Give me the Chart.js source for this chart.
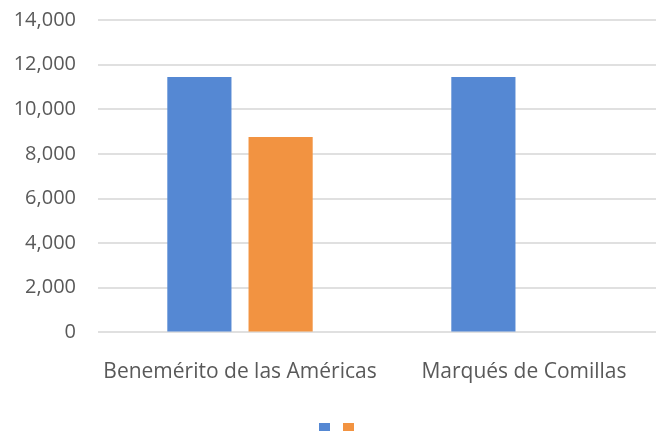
<!DOCTYPE html>
<html>
<head>
<meta charset="utf-8">
<script src="https://cdn.jsdelivr.net/npm/chart.js@4"></script>
<style>
html,body{margin:0;padding:0;background:#fff;overflow:hidden;}
#wrap{width:666px;height:457px;position:relative;top:-14px;}
</style>
</head>
<body>
<div id="wrap"><canvas id="c"></canvas></div>
<script>
const categories = ["Benemérito de las Américas", "Marqués de Comillas"];
const seriesBlue = [11450, 11450];
const seriesOrange = [8760, null];
const seriesLabels = ["", ""];

const ctx = document.getElementById('c');
new Chart(ctx, {
  type: 'bar',
  data: {
    labels: categories,
    datasets: [
      {label: seriesLabels[0], data: seriesBlue, backgroundColor: '#5588D3', categoryPercentage: 0.572, barPercentage: 0.79},
      {label: seriesLabels[1], data: seriesOrange, backgroundColor: '#F29341', categoryPercentage: 0.572, barPercentage: 0.79}
    ]
  },
  options: {
    responsive: true,
    maintainAspectRatio: false,
    animation: false,
    layout: {padding: {top: 0, right: 0, bottom: 0, left: 13}},
    plugins: {
      tooltip: {enabled: false},
      legend: {
        position: 'bottom',
        title: {display: true, text: ' ', font: {size: 2}, padding: 0},
        labels: {boxWidth: 11, boxHeight: 8, padding: 7, font: {size: 12, lineHeight: 0.6}, color: '#595959'}
      }
    },
    scales: {
      x: {
        grid: {display: false, drawTicks: false},
        border: {display: false},
        ticks: {color: '#595959', font: {family: 'Open Sans', size: 21}, padding: 27, maxRotation: 0}
      },
      y: {
        min: 0, max: 14000,
        afterFit: s => { s.width = 85; },
        grid: {color: '#E0E0E0', lineWidth: 2, drawTicks: false},
        border: {display: false},
        ticks: {stepSize: 2000, color: '#595959', font: {family: 'Open Sans', size: 20}, padding: 22,
          callback: v => v.toLocaleString('en-US')}
      }
    }
  }
});
</script>
</body>
</html>
